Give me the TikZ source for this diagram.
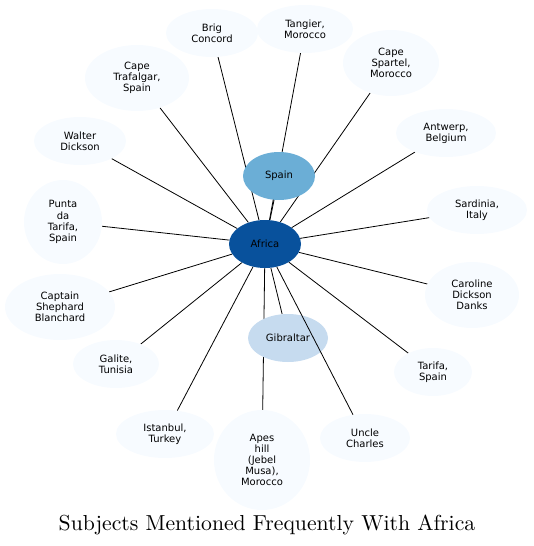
\documentclass[tikz,border=0pt]{standalone}
\usepackage{fontspec}
\newfontfamily\dejavu{DejaVu Sans}
\newfontfamily\ttlfont{lmroman10-regular.otf}
\usetikzlibrary{shapes.geometric,backgrounds}
\definecolor{hub}{HTML}{08519C}
\definecolor{mid}{HTML}{6BAED6}
\definecolor{pale}{HTML}{C6DBEF}
\definecolor{faint}{HTML}{F7FBFF}
\begin{document}
\begin{tikzpicture}[x=1pt, y=-1pt,
    subj/.style={ellipse, fill=faint, inner sep=0pt, align=center,
      font=\dejavu\fontsize{10}{11.2}\selectfont},
    link/.style={line width=.8pt}]
   \useasboundingbox (0,0) rectangle (533,546);
   \node[subj, fill=hub, minimum width=72, minimum height=48] (afr) at (265,244) {Africa};
   \node[subj, fill=mid, minimum width=72, minimum height=48] (spa) at (279,176) {Spain};
   \node[subj, fill=pale, minimum width=80, minimum height=48] (gib) at (288,338) {Gibraltar};
   \node[subj, minimum width=92, minimum height=48] (brig) at (212,33) {Brig\\Concord};
   \node[subj, minimum width=96, minimum height=48] (tan) at (305,29) {Tangier,\\Morocco};
   \node[subj, minimum width=104, minimum height=66] (traf) at (137,78) {Cape\\Trafalgar,\\Spain};
   \node[subj, minimum width=96, minimum height=66] (spar) at (391,63) {Cape\\Spartel,\\Morocco};
   \node[subj, minimum width=92, minimum height=48] (walt) at (80,141) {Walter\\Dickson};
   \node[subj, minimum width=100, minimum height=48] (antw) at (446,133) {Antwerp,\\Belgium};
   \node[subj, minimum width=78, minimum height=84] (punt) at (63,222) {Punta\\da\\Tarifa,\\Spain};
   \node[subj, minimum width=100, minimum height=48] (sard) at (477,210) {Sardinia,\\Italy};
   \node[subj, minimum width=110, minimum height=66] (capt) at (60,307) {Captain\\Shephard\\Blanchard};
   \node[subj, minimum width=94, minimum height=66] (caro) at (472,295) {Caroline\\Dickson\\Danks};
   \node[subj, minimum width=86, minimum height=48] (gal) at (116,364) {Galite,\\Tunisia};
   \node[subj, minimum width=78, minimum height=48] (tar) at (433,372) {Tarifa,\\Spain};
   \node[subj, minimum width=98, minimum height=48] (ist) at (165,434) {Istanbul,\\Turkey};
   \node[subj, minimum width=96, minimum height=100] (apes) at (262,460) {Apes\\hill\\(Jebel\\Musa),\\Morocco};
   \node[subj, minimum width=90, minimum height=48] (unc) at (365,438) {Uncle\\Charles};
   \node (ttl) at (267,525) {\ttlfont\fontsize{21.7}{24}\selectfont Subjects Mentioned Frequently With Africa};
   \begin{pgfonlayer}{background}
      \foreach \s in {spa,gib,brig,tan,traf,spar,walt,antw,punt,sard,capt,caro,gal,tar,ist,apes}
         \draw[link] (afr) -- (\s);
   \end{pgfonlayer}
   \draw[link] (afr) -- (unc);
\end{tikzpicture}
\end{document}
